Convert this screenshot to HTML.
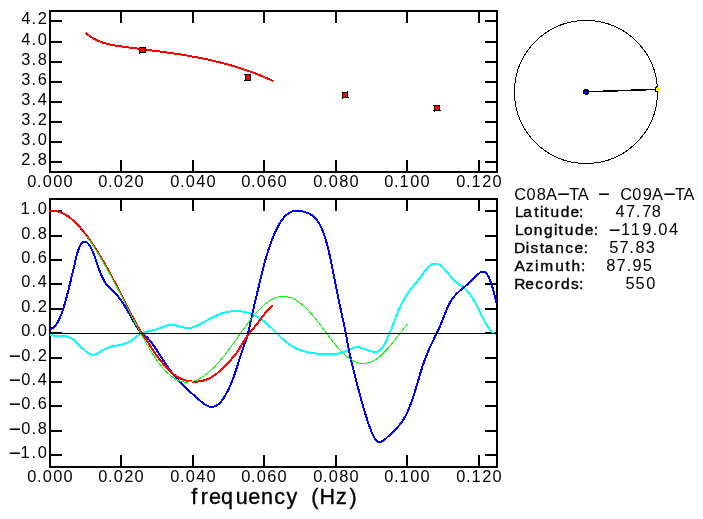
<!DOCTYPE html>
<html><head><meta charset="utf-8"><title>C08A-TA - C09A-TA</title>
<style>
html,body{margin:0;padding:0;background:#fff;}
body{width:703px;height:519px;overflow:hidden;}
svg{display:block;will-change:transform;}
text{font-family:"Liberation Sans",sans-serif;fill:#000;}
text.b{stroke:#000;stroke-width:0.4px;}
text.t{stroke:#000;stroke-width:0.35px;}
.c{fill:none;stroke-linejoin:round;stroke-linecap:butt;}
</style></head>
<body>
<svg width="703" height="519" viewBox="0 0 703 519">
<rect width="703" height="519" fill="#fff"/>
<g shape-rendering="crispEdges">
<!-- upper plot: phase velocity -->
<path d="M49 10h449v163h-449z M51 12v159h445v-159z" fill-rule="evenodd"/>
<rect x="51" y="20" width="11" height="2"/>
<rect x="485" y="20" width="11" height="2"/>
<rect x="51" y="41" width="11" height="2"/>
<rect x="485" y="41" width="11" height="2"/>
<rect x="51" y="61" width="11" height="2"/>
<rect x="485" y="61" width="11" height="2"/>
<rect x="51" y="81" width="11" height="2"/>
<rect x="485" y="81" width="11" height="2"/>
<rect x="51" y="101" width="11" height="2"/>
<rect x="485" y="101" width="11" height="2"/>
<rect x="51" y="121" width="11" height="2"/>
<rect x="485" y="121" width="11" height="2"/>
<rect x="51" y="141" width="11" height="2"/>
<rect x="485" y="141" width="11" height="2"/>
<rect x="51" y="161" width="11" height="2"/>
<rect x="485" y="161" width="11" height="2"/>
<rect x="120" y="12" width="2" height="11"/>
<rect x="120" y="160" width="2" height="11"/>
<rect x="192" y="12" width="2" height="11"/>
<rect x="192" y="160" width="2" height="11"/>
<rect x="263" y="12" width="2" height="11"/>
<rect x="263" y="160" width="2" height="11"/>
<rect x="335" y="12" width="2" height="11"/>
<rect x="335" y="160" width="2" height="11"/>
<rect x="406" y="12" width="2" height="11"/>
<rect x="406" y="160" width="2" height="11"/>
<rect x="478" y="12" width="2" height="11"/>
<rect x="478" y="160" width="2" height="11"/>
<polyline class="c" stroke="#f00" stroke-width="2" points="85.7,32.8 86.7,33.7 87.7,34.5 88.7,35.3 89.7,36.0 90.7,36.7 91.7,37.3 92.7,38.0 93.7,38.6 94.7,39.1 95.7,39.6 96.7,40.1 97.7,40.6 98.7,41.1 99.7,41.5 100.7,41.9 101.7,42.2 102.7,42.6 103.7,42.9 104.7,43.2 105.7,43.5 106.7,43.8 107.7,44.0 108.7,44.3 109.7,44.5 110.7,44.7 111.7,44.9 112.7,45.1 113.7,45.3 114.7,45.4 115.7,45.6 116.7,45.8 117.7,45.9 118.7,46.1 119.7,46.2 120.7,46.4 121.7,46.5 122.7,46.6 123.7,46.8 124.7,46.9 125.7,47.1 126.7,47.2 127.7,47.3 128.7,47.5 129.7,47.6 130.7,47.7 131.7,47.9 132.7,48.0 133.7,48.1 134.7,48.3 135.7,48.4 136.7,48.5 137.7,48.6 138.7,48.8 139.7,48.9 140.7,49.0 141.7,49.2 142.7,49.3 143.7,49.4 144.7,49.5 145.7,49.7 146.7,49.8 147.7,49.9 148.7,50.1 149.7,50.2 150.7,50.3 151.7,50.4 152.7,50.6 153.7,50.7 154.7,50.8 155.7,51.0 156.7,51.1 157.7,51.2 158.7,51.4 159.7,51.5 160.7,51.6 161.7,51.8 162.7,51.9 163.7,52.0 164.7,52.2 165.7,52.3 166.7,52.4 167.7,52.6 168.7,52.7 169.7,52.9 170.7,53.0 171.7,53.2 172.7,53.3 173.7,53.5 174.7,53.6 175.7,53.8 176.7,53.9 177.7,54.1 178.7,54.2 179.7,54.4 180.7,54.5 181.7,54.7 182.7,54.9 183.7,55.0 184.7,55.2 185.7,55.4 186.7,55.5 187.7,55.7 188.7,55.9 189.7,56.0 190.7,56.2 191.7,56.4 192.7,56.6 193.7,56.8 194.7,56.9 195.7,57.1 196.7,57.3 197.7,57.5 198.7,57.7 199.7,57.9 200.7,58.1 201.7,58.3 202.7,58.5 203.7,58.7 204.7,58.9 205.7,59.1 206.7,59.3 207.7,59.5 208.7,59.8 209.7,60.0 210.7,60.2 211.7,60.4 212.7,60.7 213.7,60.9 214.7,61.1 215.7,61.4 216.7,61.6 217.7,61.8 218.7,62.1 219.7,62.3 220.7,62.6 221.7,62.9 222.7,63.1 223.7,63.4 224.7,63.6 225.7,63.9 226.7,64.2 227.7,64.5 228.7,64.7 229.7,65.0 230.7,65.3 231.7,65.6 232.7,65.9 233.7,66.2 234.7,66.5 235.7,66.8 236.7,67.1 237.7,67.4 238.7,67.7 239.7,68.0 240.7,68.3 241.7,68.7 242.7,69.0 243.7,69.3 244.7,69.7 245.7,70.0 246.7,70.3 247.7,70.7 248.7,71.0 249.7,71.4 250.7,71.8 251.7,72.1 252.7,72.5 253.7,72.9 254.7,73.3 255.7,73.6 256.7,74.0 257.7,74.4 258.7,74.8 259.7,75.2 260.7,75.6 261.7,76.0 262.7,76.4 263.7,76.9 264.7,77.3 265.7,77.7 266.7,78.1 267.7,78.6 268.7,79.0 269.7,79.5 270.7,79.9 271.7,80.4 272.7,80.8 273.5,81.2"/>
<rect x="139" y="47" width="7" height="6" fill="#000"/><rect x="140" y="48" width="5" height="4" fill="#f00"/><rect x="139" y="53" width="1" height="1" fill="#000"/>
<rect x="245" y="74" width="6" height="7" fill="#000"/><rect x="246" y="75" width="4" height="5" fill="#f00"/><rect x="244" y="74" width="1" height="1" fill="#000"/><rect x="244" y="80" width="1" height="1" fill="#000"/>
<rect x="342" y="92" width="6" height="6" fill="#000"/><rect x="343" y="93" width="4" height="4" fill="#f00"/><rect x="347" y="91" width="1" height="1" fill="#000"/><rect x="342" y="98" width="1" height="1" fill="#000"/><rect x="348" y="97" width="1" height="1" fill="#000"/>
<rect x="434" y="105" width="6" height="6" fill="#000"/><rect x="435" y="106" width="4" height="4" fill="#f00"/><rect x="433" y="105" width="1" height="1" fill="#000"/><rect x="433" y="110" width="1" height="1" fill="#000"/><rect x="440" y="110" width="1" height="1" fill="#000"/><rect x="434" y="111" width="1" height="1" fill="#000"/>
<!-- lower plot: spectra -->
<path d="M49 198h449v270h-449z M51 200v266h445v-266z" fill-rule="evenodd"/>
<rect x="51" y="210" width="11" height="2"/>
<rect x="485" y="210" width="11" height="2"/>
<rect x="51" y="235" width="11" height="2"/>
<rect x="485" y="235" width="11" height="2"/>
<rect x="51" y="259" width="11" height="2"/>
<rect x="485" y="259" width="11" height="2"/>
<rect x="51" y="283" width="11" height="2"/>
<rect x="485" y="283" width="11" height="2"/>
<rect x="51" y="308" width="11" height="2"/>
<rect x="485" y="308" width="11" height="2"/>
<rect x="51" y="332" width="11" height="2"/>
<rect x="485" y="332" width="11" height="2"/>
<rect x="51" y="357" width="11" height="2"/>
<rect x="485" y="357" width="11" height="2"/>
<rect x="51" y="381" width="11" height="2"/>
<rect x="485" y="381" width="11" height="2"/>
<rect x="51" y="405" width="11" height="2"/>
<rect x="485" y="405" width="11" height="2"/>
<rect x="51" y="430" width="11" height="2"/>
<rect x="485" y="430" width="11" height="2"/>
<rect x="51" y="454" width="11" height="2"/>
<rect x="485" y="454" width="11" height="2"/>
<rect x="120" y="200" width="2" height="11"/>
<rect x="120" y="455" width="2" height="11"/>
<rect x="192" y="200" width="2" height="11"/>
<rect x="192" y="455" width="2" height="11"/>
<rect x="263" y="200" width="2" height="11"/>
<rect x="263" y="455" width="2" height="11"/>
<rect x="335" y="200" width="2" height="11"/>
<rect x="335" y="455" width="2" height="11"/>
<rect x="406" y="200" width="2" height="11"/>
<rect x="406" y="455" width="2" height="11"/>
<rect x="478" y="200" width="2" height="11"/>
<rect x="478" y="455" width="2" height="11"/>
<polyline class="c" stroke="#0ff" stroke-width="2" points="50.0,334.9 51.0,335.1 52.0,335.3 53.0,335.5 54.0,335.6 55.0,335.6 56.0,335.7 57.0,335.7 58.0,335.7 59.0,335.8 60.0,335.8 61.0,335.8 62.0,335.8 63.0,335.9 64.0,336.0 65.0,336.1 66.0,336.3 67.0,336.5 68.0,336.8 69.0,337.2 70.0,337.6 71.0,338.1 72.0,338.6 73.0,339.3 74.0,340.1 75.0,340.9 76.0,341.8 77.0,342.7 78.0,343.7 79.0,344.7 80.0,345.7 81.0,346.7 82.0,347.7 83.0,348.7 84.0,349.6 85.0,350.5 86.0,351.4 87.0,352.1 88.0,352.8 89.0,353.4 90.0,353.9 91.0,354.2 92.0,354.5 93.0,354.6 94.0,354.6 95.0,354.5 96.0,354.2 97.0,353.7 98.0,353.2 99.0,352.6 100.0,351.9 101.0,351.2 102.0,350.6 103.0,350.0 104.0,349.5 105.0,349.0 106.0,348.5 107.0,348.1 108.0,347.7 109.0,347.3 110.0,347.0 111.0,346.7 112.0,346.5 113.0,346.2 114.0,346.0 115.0,345.8 116.0,345.6 117.0,345.5 118.0,345.3 119.0,345.1 120.0,344.9 121.0,344.7 122.0,344.5 123.0,344.3 124.0,344.0 125.0,343.7 126.0,343.3 127.0,342.9 128.0,342.5 129.0,342.0 130.0,341.4 131.0,340.8 132.0,340.1 133.0,339.3 134.0,338.5 135.0,337.8 136.0,337.0 137.0,336.2 138.0,335.5 139.0,334.8 140.0,334.2 141.0,333.6 142.0,333.1 143.0,332.7 144.0,332.4 145.0,332.1 146.0,331.8 147.0,331.6 148.0,331.4 149.0,331.2 150.0,331.0 151.0,330.8 152.0,330.6 153.0,330.3 154.0,330.1 155.0,329.8 156.0,329.5 157.0,329.2 158.0,328.8 159.0,328.5 160.0,328.1 161.0,327.7 162.0,327.3 163.0,326.9 164.0,326.6 165.0,326.2 166.0,325.9 167.0,325.6 168.0,325.3 169.0,325.1 170.0,325.0 171.0,324.9 172.0,324.9 173.0,324.9 174.0,325.0 175.0,325.2 176.0,325.4 177.0,325.6 178.0,325.8 179.0,326.1 180.0,326.4 181.0,326.7 182.0,327.0 183.0,327.3 184.0,327.5 185.0,327.7 186.0,327.9 187.0,328.0 188.0,328.1 189.0,328.1 190.0,328.0 191.0,327.8 192.0,327.6 193.0,327.3 194.0,327.0 195.0,326.6 196.0,326.2 197.0,325.7 198.0,325.3 199.0,324.8 200.0,324.2 201.0,323.7 202.0,323.2 203.0,322.6 204.0,322.1 205.0,321.5 206.0,320.9 207.0,320.4 208.0,319.8 209.0,319.3 210.0,318.8 211.0,318.2 212.0,317.7 213.0,317.2 214.0,316.7 215.0,316.2 216.0,315.7 217.0,315.3 218.0,314.8 219.0,314.4 220.0,314.0 221.0,313.7 222.0,313.3 223.0,313.0 224.0,312.7 225.0,312.5 226.0,312.2 227.0,312.0 228.0,311.8 229.0,311.6 230.0,311.5 231.0,311.4 232.0,311.3 233.0,311.2 234.0,311.2 235.0,311.1 236.0,311.1 237.0,311.1 238.0,311.1 239.0,311.2 240.0,311.3 241.0,311.4 242.0,311.5 243.0,311.6 244.0,311.8 245.0,312.0 246.0,312.2 247.0,312.4 248.0,312.7 249.0,313.0 250.0,313.3 251.0,313.7 252.0,314.1 253.0,314.5 254.0,314.9 255.0,315.4 256.0,315.9 257.0,316.5 258.0,317.0 259.0,317.7 260.0,318.3 261.0,319.0 262.0,319.7 263.0,320.4 264.0,321.2 265.0,322.0 266.0,322.9 267.0,323.8 268.0,324.7 269.0,325.6 270.0,326.6 271.0,327.6 272.0,328.5 273.0,329.5 274.0,330.5 275.0,331.5 276.0,332.5 277.0,333.5 278.0,334.5 279.0,335.5 280.0,336.5 281.0,337.5 282.0,338.4 283.0,339.3 284.0,340.2 285.0,341.0 286.0,341.9 287.0,342.6 288.0,343.4 289.0,344.1 290.0,344.8 291.0,345.4 292.0,346.1 293.0,346.6 294.0,347.2 295.0,347.7 296.0,348.2 297.0,348.7 298.0,349.1 299.0,349.5 300.0,349.9 301.0,350.3 302.0,350.7 303.0,351.0 304.0,351.3 305.0,351.6 306.0,351.8 307.0,352.1 308.0,352.3 309.0,352.5 310.0,352.7 311.0,352.8 312.0,353.0 313.0,353.2 314.0,353.3 315.0,353.4 316.0,353.5 317.0,353.6 318.0,353.7 319.0,353.8 320.0,353.9 321.0,353.9 322.0,354.0 323.0,354.0 324.0,354.1 325.0,354.1 326.0,354.2 327.0,354.2 328.0,354.2 329.0,354.2 330.0,354.2 331.0,354.2 332.0,354.2 333.0,354.1 334.0,354.0 335.0,353.9 336.0,353.8 337.0,353.7 338.0,353.5 339.0,353.3 340.0,353.1 341.0,352.9 342.0,352.6 343.0,352.3 344.0,351.9 345.0,351.5 346.0,351.1 347.0,350.7 348.0,350.2 349.0,349.7 350.0,349.3 351.0,348.8 352.0,348.4 353.0,348.1 354.0,347.7 355.0,347.5 356.0,347.3 357.0,347.3 358.0,347.3 359.0,347.4 360.0,347.5 361.0,347.8 362.0,348.0 363.0,348.4 364.0,348.7 365.0,349.1 366.0,349.5 367.0,349.9 368.0,350.3 369.0,350.7 370.0,351.0 371.0,351.3 372.0,351.6 373.0,351.8 374.0,351.9 375.0,352.0 376.0,352.0 377.0,351.8 378.0,351.5 379.0,351.0 380.0,350.2 381.0,349.3 382.0,348.1 383.0,346.6 384.0,345.1 385.0,343.3 386.0,341.4 387.0,339.3 388.0,337.2 389.0,334.9 390.0,332.5 391.0,330.0 392.0,327.5 393.0,324.8 394.0,322.2 395.0,319.5 396.0,316.9 397.0,314.3 398.0,311.9 399.0,309.5 400.0,307.3 401.0,305.2 402.0,303.2 403.0,301.3 404.0,299.5 405.0,297.8 406.0,296.2 407.0,294.7 408.0,293.2 409.0,291.8 410.0,290.5 411.0,289.2 412.0,287.9 413.0,286.7 414.0,285.4 415.0,284.2 416.0,283.0 417.0,281.7 418.0,280.5 419.0,279.2 420.0,277.9 421.0,276.6 422.0,275.2 423.0,273.8 424.0,272.4 425.0,271.1 426.0,269.8 427.0,268.6 428.0,267.4 429.0,266.4 430.0,265.5 431.0,264.8 432.0,264.2 433.0,263.8 434.0,263.6 435.0,263.5 436.0,263.6 437.0,263.8 438.0,264.1 439.0,264.6 440.0,265.2 441.0,265.9 442.0,266.6 443.0,267.5 444.0,268.5 445.0,269.6 446.0,270.7 447.0,271.9 448.0,273.1 449.0,274.3 450.0,275.5 451.0,276.7 452.0,277.8 453.0,279.0 454.0,280.1 455.0,281.1 456.0,282.0 457.0,282.8 458.0,283.5 459.0,284.2 460.0,284.9 461.0,285.5 462.0,286.2 463.0,286.9 464.0,287.7 465.0,288.5 466.0,289.5 467.0,290.6 468.0,291.7 469.0,292.9 470.0,294.3 471.0,295.7 472.0,297.2 473.0,298.8 474.0,300.4 475.0,302.2 476.0,304.1 477.0,306.0 478.0,308.0 479.0,310.0 480.0,312.0 481.0,314.0 482.0,316.0 483.0,318.0 484.0,320.0 485.0,321.9 486.0,323.7 487.0,325.4 488.0,327.0 489.0,328.4 490.0,329.7 491.0,330.9 492.0,331.9 493.0,332.7 494.0,333.3 495.0,333.6 496.0,333.8 496.2,333.8"/>
<polyline class="c" stroke="#00f" stroke-width="2" points="50.0,328.9 51.0,328.7 52.0,328.3 53.0,327.7 54.0,327.0 55.0,325.9 56.0,324.7 57.0,323.3 58.0,321.6 59.0,319.7 60.0,317.5 61.0,315.1 62.0,312.5 63.0,309.6 64.0,306.4 65.0,303.0 66.0,299.4 67.0,295.6 68.0,291.7 69.0,287.7 70.0,283.6 71.0,279.4 72.0,275.3 73.0,271.2 74.0,267.1 75.0,262.7 76.0,258.2 77.0,254.3 78.0,250.9 79.0,248.2 80.0,246.0 81.0,244.3 82.0,243.1 83.0,242.3 84.0,241.8 85.0,241.8 86.0,242.0 87.0,242.6 88.0,243.5 89.0,244.7 90.0,246.2 91.0,248.0 92.0,250.0 93.0,252.3 94.0,254.8 95.0,257.6 96.0,260.5 97.0,263.5 98.0,266.4 99.0,269.1 100.0,271.8 101.0,274.3 102.0,276.6 103.0,278.7 104.0,280.6 105.0,282.3 106.0,283.8 107.0,285.1 108.0,286.3 109.0,287.3 110.0,288.3 111.0,289.2 112.0,290.0 113.0,290.9 114.0,291.9 115.0,292.8 116.0,293.9 117.0,295.0 118.0,296.3 119.0,297.5 120.0,298.9 121.0,300.3 122.0,301.8 123.0,303.3 124.0,304.8 125.0,306.4 126.0,308.1 127.0,309.8 128.0,311.5 129.0,313.2 130.0,315.0 131.0,316.8 132.0,318.6 133.0,320.5 134.0,322.3 135.0,324.1 136.0,325.8 137.0,327.4 138.0,328.9 139.0,330.3 140.0,331.6 141.0,332.7 142.0,333.5 143.0,334.3 144.0,335.0 145.0,335.7 146.0,336.4 147.0,337.3 148.0,338.3 149.0,339.5 150.0,340.7 151.0,341.9 152.0,343.3 153.0,344.7 154.0,346.1 155.0,347.5 156.0,349.0 157.0,350.5 158.0,352.0 159.0,353.6 160.0,355.1 161.0,356.7 162.0,358.2 163.0,359.8 164.0,361.3 165.0,362.8 166.0,364.3 167.0,365.8 168.0,367.2 169.0,368.6 170.0,370.0 171.0,371.4 172.0,372.7 173.0,373.9 174.0,375.2 175.0,376.4 176.0,377.6 177.0,378.7 178.0,379.8 179.0,380.9 180.0,382.0 181.0,383.1 182.0,384.1 183.0,385.1 184.0,386.1 185.0,387.1 186.0,388.1 187.0,389.0 188.0,389.9 189.0,390.9 190.0,391.8 191.0,392.7 192.0,393.6 193.0,394.5 194.0,395.3 195.0,396.2 196.0,397.1 197.0,398.0 198.0,398.8 199.0,399.7 200.0,400.6 201.0,401.4 202.0,402.3 203.0,403.0 204.0,403.8 205.0,404.5 206.0,405.1 207.0,405.6 208.0,406.1 209.0,406.5 210.0,406.7 211.0,406.9 212.0,406.9 213.0,406.9 214.0,406.6 215.0,406.3 216.0,405.8 217.0,405.2 218.0,404.5 219.0,403.7 220.0,402.7 221.0,401.6 222.0,400.4 223.0,399.0 224.0,397.5 225.0,395.9 226.0,394.2 227.0,392.3 228.0,390.4 229.0,388.3 230.0,386.0 231.0,383.7 232.0,381.2 233.0,378.7 234.0,376.0 235.0,373.1 236.0,370.2 237.0,367.1 238.0,363.9 239.0,360.7 240.0,357.4 241.0,354.3 242.0,351.2 243.0,348.3 244.0,345.5 245.0,342.8 246.0,340.1 247.0,337.1 248.0,333.6 249.0,329.4 250.0,324.8 251.0,320.1 252.0,315.5 253.0,311.0 254.0,306.6 255.0,302.2 256.0,298.0 257.0,293.8 258.0,289.6 259.0,285.4 260.0,281.2 261.0,277.0 262.0,272.9 263.0,268.8 264.0,264.9 265.0,261.2 266.0,257.7 267.0,254.3 268.0,251.2 269.0,248.2 270.0,245.3 271.0,242.5 272.0,239.8 273.0,237.3 274.0,234.9 275.0,232.6 276.0,230.4 277.0,228.3 278.0,226.4 279.0,224.6 280.0,222.9 281.0,221.3 282.0,219.9 283.0,218.6 284.0,217.4 285.0,216.3 286.0,215.3 287.0,214.4 288.0,213.7 289.0,213.0 290.0,212.4 291.0,211.9 292.0,211.5 293.0,211.2 294.0,211.0 295.0,210.8 296.0,210.7 297.0,210.6 298.0,210.7 299.0,210.7 300.0,210.9 301.0,211.0 302.0,211.2 303.0,211.5 304.0,211.8 305.0,212.1 306.0,212.5 307.0,212.8 308.0,213.2 309.0,213.6 310.0,214.1 311.0,214.7 312.0,215.3 313.0,216.0 314.0,216.8 315.0,217.8 316.0,218.9 317.0,220.1 318.0,221.6 319.0,223.2 320.0,225.0 321.0,227.1 322.0,229.3 323.0,231.8 324.0,234.6 325.0,237.6 326.0,240.8 327.0,244.3 328.0,248.1 329.0,252.2 330.0,256.5 331.0,261.2 332.0,266.0 333.0,271.1 334.0,276.2 335.0,281.4 336.0,286.5 337.0,291.5 338.0,296.5 339.0,301.4 340.0,306.1 341.0,310.9 342.0,315.5 343.0,320.0 344.0,324.5 345.0,329.2 346.0,334.3 347.0,339.8 348.0,345.4 349.0,350.6 350.0,355.3 351.0,359.6 352.0,363.8 353.0,367.8 354.0,371.8 355.0,375.8 356.0,379.8 357.0,383.7 358.0,387.6 359.0,391.4 360.0,395.1 361.0,398.8 362.0,402.4 363.0,406.0 364.0,409.4 365.0,412.8 366.0,416.0 367.0,419.2 368.0,422.2 369.0,425.1 370.0,427.9 371.0,430.5 372.0,432.9 373.0,435.1 374.0,437.0 375.0,438.7 376.0,440.0 377.0,441.1 378.0,441.7 379.0,442.1 380.0,442.1 381.0,441.8 382.0,441.3 383.0,440.7 384.0,439.9 385.0,439.2 386.0,438.4 387.0,437.5 388.0,436.6 389.0,435.7 390.0,434.7 391.0,433.7 392.0,432.7 393.0,431.8 394.0,430.8 395.0,429.8 396.0,428.8 397.0,427.7 398.0,426.6 399.0,425.5 400.0,424.3 401.0,423.0 402.0,421.7 403.0,420.2 404.0,418.6 405.0,416.9 406.0,415.0 407.0,413.0 408.0,410.8 409.0,408.5 410.0,406.0 411.0,403.3 412.0,400.5 413.0,397.5 414.0,394.4 415.0,391.2 416.0,387.9 417.0,384.5 418.0,381.1 419.0,377.7 420.0,374.3 421.0,371.0 422.0,367.9 423.0,364.8 424.0,362.0 425.0,359.2 426.0,356.6 427.0,354.1 428.0,351.7 429.0,349.4 430.0,347.2 431.0,345.0 432.0,342.9 433.0,340.8 434.0,338.8 435.0,336.7 436.0,334.7 437.0,332.6 438.0,330.6 439.0,328.4 440.0,326.2 441.0,323.9 442.0,321.4 443.0,318.9 444.0,316.2 445.0,313.6 446.0,311.1 447.0,308.7 448.0,306.4 449.0,304.4 450.0,302.6 451.0,300.9 452.0,299.4 453.0,298.0 454.0,296.7 455.0,295.5 456.0,294.4 457.0,293.4 458.0,292.4 459.0,291.5 460.0,290.6 461.0,289.7 462.0,288.9 463.0,288.0 464.0,287.2 465.0,286.4 466.0,285.5 467.0,284.7 468.0,283.9 469.0,283.0 470.0,282.2 471.0,281.3 472.0,280.4 473.0,279.4 474.0,278.4 475.0,277.4 476.0,276.3 477.0,275.3 478.0,274.3 479.0,273.4 480.0,272.6 481.0,272.0 482.0,271.6 483.0,271.5 484.0,271.6 485.0,272.0 486.0,272.8 487.0,274.1 488.0,275.7 489.0,277.7 490.0,280.0 491.0,282.8 492.0,285.8 493.0,289.1 494.0,292.7 495.0,296.5 496.0,300.6 496.6,303.1"/>
<polyline class="c" stroke="#f00" stroke-width="2" points="49.0,211.0 50.0,210.8 51.0,210.8 52.0,210.7 53.0,210.7 54.0,210.8 55.0,210.9 56.0,211.0 57.0,211.2 58.0,211.5 59.0,211.8 60.0,212.1 61.0,212.5 62.0,212.9 63.0,213.4 64.0,213.9 65.0,214.4 66.0,215.0 67.0,215.7 68.0,216.3 69.0,217.1 70.0,217.8 71.0,218.6 72.0,219.4 73.0,220.3 74.0,221.2 75.0,222.2 76.0,223.1 77.0,224.2 78.0,225.2 79.0,226.3 80.0,227.4 81.0,228.6 82.0,229.7 83.0,231.0 84.0,232.2 85.0,233.5 86.0,234.8 87.0,236.1 88.0,237.5 89.0,238.9 90.0,240.3 91.0,241.7 92.0,243.2 93.0,244.7 94.0,246.2 95.0,247.7 96.0,249.3 97.0,250.9 98.0,252.5 99.0,254.1 100.0,255.8 101.0,257.4 102.0,259.1 103.0,260.8 104.0,262.6 105.0,264.3 106.0,266.1 107.0,267.9 108.0,269.6 109.0,271.5 110.0,273.3 111.0,275.1 112.0,277.0 113.0,278.8 114.0,280.7 115.0,282.6 116.0,284.5 117.0,286.4 118.0,288.3 119.0,290.3 120.0,292.2 121.0,294.1 122.0,296.1 123.0,298.1 124.0,300.0 125.0,302.0 126.0,304.0 127.0,305.9 128.0,307.9 129.0,309.9 130.0,311.8 131.0,313.8 132.0,315.7 133.0,317.6 134.0,319.5 135.0,321.4 136.0,323.2 137.0,325.0 138.0,326.7 139.0,328.4 140.0,330.1 141.0,331.7 142.0,333.2 143.0,334.7 144.0,336.2 145.0,337.6 146.0,339.0 147.0,340.5 148.0,342.1 149.0,343.7 150.0,345.4 151.0,347.1 152.0,348.8 153.0,350.4 154.0,351.9 155.0,353.3 156.0,354.7 157.0,356.0 158.0,357.4 159.0,358.7 160.0,359.9 161.0,361.2 162.0,362.4 163.0,363.6 164.0,364.8 165.0,366.0 166.0,367.1 167.0,368.2 168.0,369.2 169.0,370.2 170.0,371.2 171.0,372.1 172.0,373.0 173.0,373.8 174.0,374.6 175.0,375.3 176.0,376.0 177.0,376.6 178.0,377.2 179.0,377.7 180.0,378.2 181.0,378.7 182.0,379.1 183.0,379.5 184.0,379.8 185.0,380.2 186.0,380.4 187.0,380.7 188.0,380.9 189.0,381.1 190.0,381.3 191.0,381.4 192.0,381.5 193.0,381.6 194.0,381.7 195.0,381.7 196.0,381.7 197.0,381.6 198.0,381.5 199.0,381.4 200.0,381.3 201.0,381.1 202.0,380.9 203.0,380.7 204.0,380.4 205.0,380.1 206.0,379.7 207.0,379.3 208.0,378.9 209.0,378.5 210.0,378.0 211.0,377.4 212.0,376.9 213.0,376.2 214.0,375.6 215.0,374.9 216.0,374.2 217.0,373.4 218.0,372.6 219.0,371.8 220.0,370.9 221.0,370.0 222.0,369.0 223.0,368.1 224.0,367.1 225.0,366.0 226.0,365.0 227.0,363.9 228.0,362.9 229.0,361.8 230.0,360.7 231.0,359.6 232.0,358.4 233.0,357.3 234.0,356.1 235.0,354.9 236.0,353.6 237.0,352.2 238.0,350.7 239.0,349.1 240.0,347.4 241.0,345.7 242.0,344.1 243.0,342.5 244.0,340.9 245.0,339.5 246.0,338.0 247.0,336.7 248.0,335.3 249.0,334.0 250.0,332.8 251.0,331.5 252.0,330.2 253.0,329.0 254.0,327.7 255.0,326.5 256.0,325.2 257.0,323.9 258.0,322.6 259.0,321.3 260.0,319.9 261.0,318.6 262.0,317.2 263.0,315.9 264.0,314.6 265.0,313.4 266.0,312.2 267.0,311.0 268.0,309.9 269.0,308.9 270.0,307.9 271.0,307.0 272.0,306.3 273.0,305.6 273.3,305.4"/>
<polyline class="c" stroke="#0f0" stroke-width="1" points="86.4,236.1 87.4,237.5 88.4,238.8 89.4,240.3 90.4,241.7 91.4,243.2 92.4,244.7 93.4,246.2 94.4,247.7 95.4,249.3 96.4,250.9 97.4,252.5 98.4,254.1 99.4,255.8 100.4,257.5 101.4,259.1 102.4,260.9 103.4,262.6 104.4,264.3 105.4,266.1 106.4,267.9 107.4,269.7 108.4,271.5 109.4,273.3 110.4,275.2 111.4,277.0 112.4,278.9 113.4,280.7 114.4,282.6 115.4,284.5 116.4,286.4 117.4,288.3 118.4,290.2 119.4,292.2 120.4,294.1 121.4,296.0 122.4,298.0 123.4,299.9 124.4,301.9 125.4,303.8 126.4,305.8 127.4,307.7 128.4,309.7 129.4,311.6 130.4,313.6 131.4,315.5 132.4,317.5 133.4,319.4 134.4,321.4 135.4,323.3 136.4,325.2 137.4,327.1 138.4,329.0 139.4,330.9 140.4,332.8 141.4,334.6 142.4,336.4 143.4,338.3 144.4,340.0 145.4,341.8 146.4,343.6 147.4,345.3 148.4,347.0 149.4,348.7 150.4,350.3 151.4,351.9 152.4,353.5 153.4,355.0 154.4,356.6 155.4,358.0 156.4,359.5 157.4,360.9 158.4,362.3 159.4,363.6 160.4,364.9 161.4,366.1 162.4,367.3 163.4,368.5 164.4,369.6 165.4,370.7 166.4,371.7 167.4,372.7 168.4,373.7 169.4,374.6 170.4,375.4 171.4,376.2 172.4,377.0 173.4,377.7 174.4,378.3 175.4,378.9 176.4,379.5 177.4,379.9 178.4,380.4 179.4,380.8 180.4,381.1 181.4,381.4 182.4,381.6 183.4,381.8 184.4,382.0 185.4,382.0 186.4,382.1 187.4,382.1 188.4,382.0 189.4,381.9 190.4,381.8 191.4,381.6 192.4,381.4 193.4,381.1 194.4,380.8 195.4,380.5 196.4,380.1 197.4,379.7 198.4,379.2 199.4,378.7 200.4,378.1 201.4,377.6 202.4,376.9 203.4,376.3 204.4,375.6 205.4,374.9 206.4,374.1 207.4,373.3 208.4,372.5 209.4,371.6 210.4,370.8 211.4,369.8 212.4,368.9 213.4,367.9 214.4,366.9 215.4,365.9 216.4,364.8 217.4,363.7 218.4,362.6 219.4,361.5 220.4,360.3 221.4,359.2 222.4,357.9 223.4,356.7 224.4,355.5 225.4,354.2 226.4,352.9 227.4,351.6 228.4,350.3 229.4,348.9 230.4,347.6 231.4,346.2 232.4,344.8 233.4,343.4 234.4,342.1 235.4,340.7 236.4,339.3 237.4,337.8 238.4,336.4 239.4,335.0 240.4,333.6 241.4,332.2 242.4,330.8 243.4,329.5 244.4,328.1 245.4,326.7 246.4,325.3 247.4,324.0 248.4,322.7 249.4,321.3 250.4,320.0 251.4,318.7 252.4,317.5 253.4,316.2 254.4,315.0 255.4,313.8 256.4,312.7 257.4,311.5 258.4,310.4 259.4,309.4 260.4,308.3 261.4,307.4 262.4,306.4 263.4,305.5 264.4,304.6 265.4,303.8 266.4,303.0 267.4,302.2 268.4,301.5 269.4,300.9 270.4,300.3 271.4,299.7 272.4,299.2 273.4,298.7 274.4,298.2 275.4,297.8 276.4,297.5 277.4,297.2 278.4,296.9 279.4,296.7 280.4,296.6 281.4,296.4 282.4,296.4 283.4,296.4 284.4,296.4 285.4,296.5 286.4,296.6 287.4,296.7 288.4,297.0 289.4,297.2 290.4,297.5 291.4,297.9 292.4,298.3 293.4,298.8 294.4,299.3 295.4,299.8 296.4,300.4 297.4,301.1 298.4,301.7 299.4,302.5 300.4,303.2 301.4,304.0 302.4,304.8 303.4,305.7 304.4,306.6 305.4,307.6 306.4,308.6 307.4,309.6 308.4,310.6 309.4,311.7 310.4,312.8 311.4,313.9 312.4,315.1 313.4,316.3 314.4,317.5 315.4,318.7 316.4,320.0 317.4,321.2 318.4,322.5 319.4,323.8 320.4,325.2 321.4,326.5 322.4,327.8 323.4,329.1 324.4,330.5 325.4,331.8 326.4,333.2 327.4,334.5 328.4,335.8 329.4,337.1 330.4,338.4 331.4,339.7 332.4,341.0 333.4,342.3 334.4,343.5 335.4,344.7 336.4,345.9 337.4,347.1 338.4,348.3 339.4,349.4 340.4,350.5 341.4,351.5 342.4,352.5 343.4,353.5 344.4,354.4 345.4,355.3 346.4,356.2 347.4,357.0 348.4,357.8 349.4,358.5 350.4,359.2 351.4,359.8 352.4,360.4 353.4,360.9 354.4,361.4 355.4,361.8 356.4,362.2 357.4,362.5 358.4,362.8 359.4,363.0 360.4,363.2 361.4,363.3 362.4,363.4 363.4,363.4 364.4,363.4 365.4,363.3 366.4,363.2 367.4,363.0 368.4,362.8 369.4,362.5 370.4,362.2 371.4,361.8 372.4,361.4 373.4,360.9 374.4,360.3 375.4,359.8 376.4,359.1 377.4,358.4 378.4,357.7 379.4,356.9 380.4,356.1 381.4,355.2 382.4,354.3 383.4,353.3 384.4,352.3 385.4,351.2 386.4,350.2 387.4,349.0 388.4,347.9 389.4,346.7 390.4,345.5 391.4,344.3 392.4,343.1 393.4,341.8 394.4,340.6 395.4,339.3 396.4,338.0 397.4,336.7 398.4,335.4 399.4,334.1 400.4,332.8 401.4,331.6 402.4,330.3 403.4,329.0 404.4,327.8 405.4,326.5 406.4,325.3 407.4,324.2"/>
<rect x="51" y="333" width="445" height="1" fill="#000"/>
<!-- station geometry -->
<circle cx="586" cy="92" r="71.5" fill="none" stroke="#000" stroke-width="1"/>
<rect x="589" y="91" width="29" height="1"/><rect x="603" y="90" width="43" height="1"/><rect x="631" y="89" width="25" height="1"/>
<rect x="584" y="89" width="4" height="1"/><rect x="583" y="90" width="6" height="4"/><rect x="585" y="94" width="3" height="1"/>
<rect x="584" y="91" width="4" height="2" fill="#00f"/>
<rect x="655" y="87" width="1" height="5"/><rect x="656" y="86" width="1" height="2"/><rect x="656" y="91" width="2" height="1"/>
<rect x="657" y="87" width="2" height="1" fill="#ff0"/><rect x="656" y="88" width="4" height="2" fill="#ff0"/><rect x="657" y="90" width="3" height="1" fill="#ff0"/><rect x="658" y="91" width="1" height="1" fill="#ff0"/>
</g>
<g>
<text x="21.29 31.57 37.74" y="24" font-size="16.4">4.2</text>
<text x="21.29 31.57 37.74" y="45" font-size="16.4">4.0</text>
<text x="21.29 31.57 37.74" y="65" font-size="16.4">3.8</text>
<text x="21.29 31.57 37.68" y="85" font-size="16.4">3.6</text>
<text x="21.29 31.57 37.79" y="105" font-size="16.4">3.4</text>
<text x="21.29 31.57 37.74" y="125" font-size="16.4">3.2</text>
<text x="21.29 31.57 37.74" y="145" font-size="16.4">3.0</text>
<text x="21.24 31.57 37.74" y="165" font-size="16.4">2.8</text>
<text x="20.62 31.57 37.74" y="214" font-size="16.4">1.0</text>
<text x="21.24 31.57 37.74" y="239" font-size="16.4">0.8</text>
<text x="21.24 31.57 37.68" y="263" font-size="16.4">0.6</text>
<text x="21.24 31.57 37.79" y="287" font-size="16.4">0.4</text>
<text x="21.24 31.57 37.74" y="312" font-size="16.4">0.2</text>
<text x="21.24 31.57 37.74" y="336" font-size="16.4">0.0</text>
<text x="21.24 31.57 37.74" y="361" font-size="16.4">0.2</text>
<text transform="translate(7.96,362.0) scale(2.523,1.25)" font-size="16.4">-</text>
<text x="21.24 31.57 37.79" y="385" font-size="16.4">0.4</text>
<text transform="translate(7.96,386.0) scale(2.523,1.25)" font-size="16.4">-</text>
<text x="21.24 31.57 37.68" y="409" font-size="16.4">0.6</text>
<text transform="translate(7.96,410.0) scale(2.523,1.25)" font-size="16.4">-</text>
<text x="21.24 31.57 37.74" y="434" font-size="16.4">0.8</text>
<text transform="translate(7.96,435.0) scale(2.523,1.25)" font-size="16.4">-</text>
<text x="20.62 31.57 37.74" y="458" font-size="16.4">1.0</text>
<text transform="translate(7.96,459.0) scale(2.523,1.25)" font-size="16.4">-</text>
<text x="27.34 37.02 42.79 53.19 63.54" y="186.8" font-size="16.4">0.000</text>
<text x="27.34 37.02 42.79 53.19 63.54" y="481.8" font-size="16.4">0.000</text>
<text x="98.34 108.02 113.79 124.19 134.54" y="186.8" font-size="16.4">0.020</text>
<text x="98.34 108.02 113.79 124.19 134.54" y="481.8" font-size="16.4">0.020</text>
<text x="170.34 180.02 185.79 196.24 206.54" y="186.8" font-size="16.4">0.040</text>
<text x="170.34 180.02 185.79 196.24 206.54" y="481.8" font-size="16.4">0.040</text>
<text x="241.34 251.02 256.79 267.13 277.54" y="186.8" font-size="16.4">0.060</text>
<text x="241.34 251.02 256.79 267.13 277.54" y="481.8" font-size="16.4">0.060</text>
<text x="313.34 323.02 328.79 339.19 349.54" y="186.8" font-size="16.4">0.080</text>
<text x="313.34 323.02 328.79 339.19 349.54" y="481.8" font-size="16.4">0.080</text>
<text x="384.34 394.02 399.57 410.19 420.54" y="186.8" font-size="16.4">0.100</text>
<text x="384.34 394.02 399.57 410.19 420.54" y="481.8" font-size="16.4">0.100</text>
<text x="456.34 466.02 471.57 482.19 492.54" y="186.8" font-size="16.4">0.120</text>
<text x="456.34 466.02 471.57 482.19 492.54" y="481.8" font-size="16.4">0.120</text>
<text class="t" x="191.35 200.63 208.94 221.11 235.79 248.34 260.96 274.35 286.47 299.37 311.37 319.58 336.12 349.52" y="503.5" font-size="21.5">frequency (Hz)</text>
<text x="514.37 526.54 536.79 546.03" y="199.6" font-size="16.4">C08A</text>
<text transform="translate(556.25,200.0) scale(2.672,1.25)" font-size="16.4">-</text>
<text x="569.25 577.68" y="199.6" font-size="16.4">TA</text>
<text transform="translate(597.30,200.0) scale(2.473,1.25)" font-size="16.4">-</text>
<text x="620.27 632.19 642.74 651.93" y="199.6" font-size="16.4">C09A</text>
<text transform="translate(662.41,200.0) scale(2.597,1.25)" font-size="16.4">-</text>
<text x="675.00 683.58" y="199.6" font-size="16.4">TA</text>
<text class="b" x="514.91 523.36 534.34 539.93 544.34 550.50 560.71 570.50 579.00" y="216.7" font-size="15.5">Latitude:</text>
<text x="615.54 625.98 635.72 642.18 651.79" y="216.7" font-size="16.4">47.78</text>
<text class="b" x="514.91 523.89 533.68 544.11 554.03 558.54 564.70 574.91 584.75 593.75" y="234.7" font-size="15.5">Longitude:</text>
<text transform="translate(608.00,235.89999999999998) scale(2.473,1.25)" font-size="16.4">-</text>
<text x="620.92 630.72 642.19 652.82 658.29 668.99" y="234.7" font-size="16.4">119.04</text>
<text class="b" x="513.94 525.83 530.59 539.69 544.71 555.33 565.25 574.55 583.70" y="252.7" font-size="15.5">Distance:</text>
<text x="609.31 619.58 629.32 635.59 645.84" y="252.7" font-size="16.4">57.83</text>
<text class="b" x="514.38 525.70 534.93 540.14 555.30 565.39 571.46 580.95" y="270.7" font-size="15.5">Azimuth:</text>
<text x="606.29 616.58 626.72 632.59 642.71" y="270.7" font-size="16.4">87.95</text>
<text class="b" x="514.13 525.20 535.30 544.39 554.48 561.06 570.89 578.95" y="288.7" font-size="15.5">Records:</text>
<text x="625.46 635.56 646.34" y="288.7" font-size="16.4">550</text>
</g>
</svg>
</body></html>
